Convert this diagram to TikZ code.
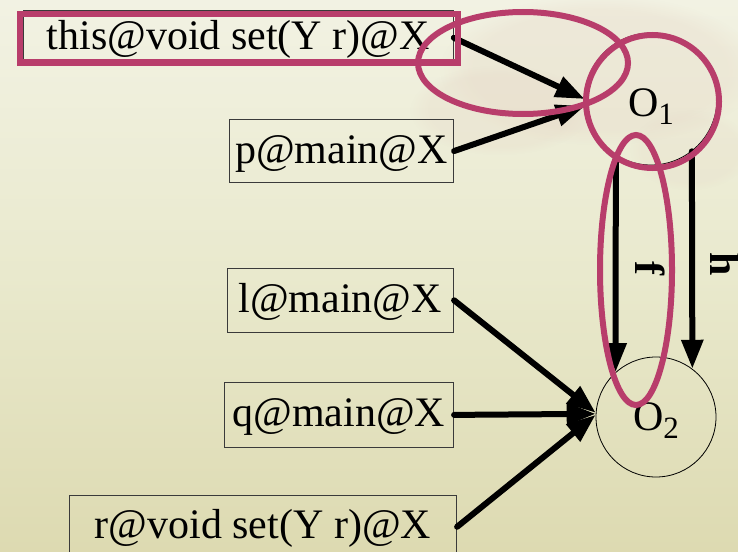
\documentclass[tikz,border=0pt]{standalone}
\usepackage{fontspec}
\setmainfont{Liberation Serif}
\usetikzlibrary{arrows.meta,fadings}

\definecolor{bgtop}{HTML}{F2F2E3}
\definecolor{bgmid}{HTML}{E9E9CD}
\definecolor{bgbot}{HTML}{DDDAB1}
\definecolor{cloud}{HTML}{E6D6C6}
\definecolor{hilite}{HTML}{B83D6B}
\definecolor{boxline}{HTML}{3A3A3A}

\begin{document}
\begin{tikzpicture}[x=1pt,y=-1pt,
  varbox/.style={draw=boxline, line width=1.1pt, inner sep=0pt, anchor=north west,
    text height=33pt, text depth=9pt, font=\fontsize{42}{48}\selectfont},
  objnode/.style={circle, draw=black, line width=0.8pt, inner sep=0pt,
    font=\fontsize{42}{48}\selectfont},
  ref/.style={line width=6pt, line cap=round, -{Triangle[length=29pt,width=21pt]}},
  ring/.style={draw=hilite, line width=6pt},
  fieldlbl/.style={font=\fontsize{42}{48}\selectfont\bfseries, rotate=-90, inner sep=0pt}
]
% canvas and soft background
\useasboundingbox (0,0) rectangle (738,551);
\shade[top color=bgtop, bottom color=bgbot, middle color=bgmid] (0,0) rectangle (738,551);
\fill[cloud, fill opacity=0.3, path fading=circle with fuzzy edge 20 percent]
  (600,70) ellipse (160 and 75);
\fill[cloud, fill opacity=0.25, path fading=circle with fuzzy edge 20 percent]
  (500,110) ellipse (90 and 45);
\fill[cloud, fill opacity=0.2, path fading=circle with fuzzy edge 20 percent]
  (690,150) ellipse (60 and 40);

% variable boxes
\node[varbox, minimum width=430pt, minimum height=53.5pt] (this) at (22.7,10.5) {this@void set(Y r)@X};
\node[varbox, minimum width=224pt, minimum height=63pt] (p) at (229,119) {p@main@X};
\node[varbox, minimum width=226.5pt, minimum height=63.5pt] (l) at (226.5,268) {l@main@X};
\node[varbox, minimum width=229.5pt, minimum height=64.7pt] (q) at (223.5,382) {q@main@X};
\node[varbox, minimum width=387.3pt, minimum height=63.5pt] (r) at (68.7,494.5) {r@void set(Y r)@X};

% heap objects
\node[objnode, minimum size=132pt, text height=34pt, text depth=0pt] (o1) at (651,99)
  {O\raisebox{-8pt}{\fontsize{31}{31}\selectfont 1}};
\node[objnode, minimum size=120pt, text height=26pt, text depth=0pt] (o2) at (656,417)
  {O\raisebox{-8pt}{\fontsize{31}{31}\selectfont 2}};

% references
\draw[ref] (this.east) -- (o1.180);
\draw[ref] (p.east) -- (o1.186);
\draw[ref] (l.east) -- (o2.176);
\draw[ref] (q.east) -- (o2.177);
\draw[ref] (r.east) -- (o2.178);
\draw[ref] (o1.-122) -- (o2.132);
\draw[ref] (o1.-52.7) -- (o2.53.1);

% field names
\node[fieldlbl] (fname) at (650,268) {f};
\node[fieldlbl] (hname) at (725,264) {h};

% highlights
\draw[ring] (19.5,14.5) rectangle (457.5,62.5);
\draw[ring] (523,63) ellipse (105 and 51);
\draw[ring] (652.5,101.5) circle (66.5);
\draw[ring] (636,270) ellipse (36 and 135);
\end{tikzpicture}
\end{document}
